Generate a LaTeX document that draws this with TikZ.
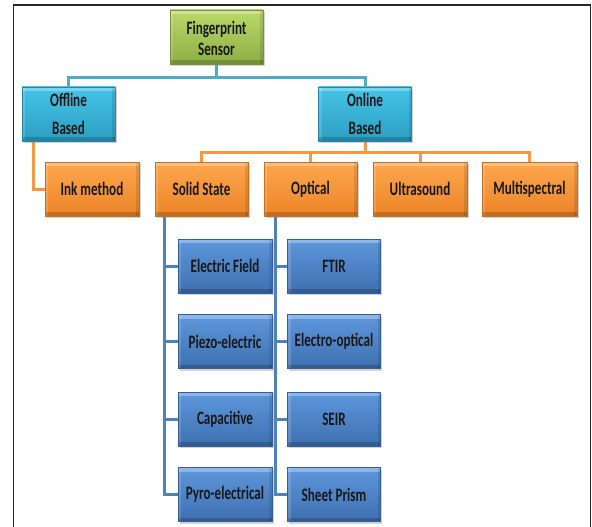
\documentclass[tikz,border=0pt]{standalone}
\usepackage{fontspec}
\newfontfamily\boxfont[FakeStretch=0.69]{Carlito}
\usetikzlibrary{shadows,calc}

\pgfdeclarelayer{lines}
\pgfsetlayers{lines,main}

\definecolor{grnT}{HTML}{BBD96A}
\definecolor{grnB}{HTML}{8DAE45}
\definecolor{cyaT}{HTML}{45C3E6}
\definecolor{cyaB}{HTML}{2C9FC2}
\definecolor{orgT}{HTML}{FDA74F}
\definecolor{orgB}{HTML}{EC8426}
\definecolor{bluT}{HTML}{5E97DC}
\definecolor{bluB}{HTML}{3E70B0}
\definecolor{cyaLine}{HTML}{4BACC6}
\definecolor{orgLine}{HTML}{F79646}
\definecolor{bluLine}{HTML}{4F81BD}

\tikzset{
  box/.style={rectangle, minimum width=93pt, minimum height=54pt, inner sep=0pt,
    text=black!90, align=center,
    font=\boxfont\bfseries\fontsize{19}{20}\selectfont,
    drop shadow={opacity=0.35, shadow xshift=1.5pt, shadow yshift=-2pt},
    path picture={
      \fill[white,opacity=0.30] (path picture bounding box.north west) rectangle
        ([yshift=-4pt]path picture bounding box.north east);
      \fill[white,opacity=0.15] (path picture bounding box.north west) rectangle
        ([xshift=3pt]path picture bounding box.south west);
      \fill[black,opacity=0.18] (path picture bounding box.south west) rectangle
        ([yshift=4pt]path picture bounding box.south east);
      \fill[black,opacity=0.10] (path picture bounding box.north east) rectangle
        ([xshift=-3pt]path picture bounding box.south east);
    }},
  greenbox/.style={box, top color=grnT, bottom color=grnB, draw=grnB!85!black, line width=0.5pt},
  cyanbox/.style={box, top color=cyaT, bottom color=cyaB, draw=cyaB!85!black, line width=0.5pt},
  orangebox/.style={box, top color=orgT, bottom color=orgB, draw=orgB!85!black, line width=0.5pt},
  bluebox/.style={box, top color=bluT, bottom color=bluB, draw=bluB!85!black, line width=0.5pt},
  cline/.style={draw=cyaLine, line width=3pt},
  oline/.style={draw=orgLine, line width=3pt},
  bline/.style={draw=bluLine, line width=3pt},
  frame/.style={draw=black!85, line width=1.6pt}
}

\begin{document}
\begin{tikzpicture}[x=1pt, y=-1pt]
\useasboundingbox (0,0) rectangle (592,527);

% outer frame (open at the bottom)
\coordinate (fbl) at (13.5,527);
\coordinate (ftl) at (13.5,5);
\coordinate (ftr) at (590.5,5);
\coordinate (fbr) at (590.5,527);
\draw[frame] (fbl) -- (ftl) -- (ftr) -- (fbr);

% boxes
\node[greenbox, text depth=0pt] (fs) at (216.5,37) {\raisebox{-2pt}{Fingerprint}\\[1pt]\raisebox{-2pt}{Sensor}};
\node[cyanbox] (off) at (68.5,114) {Offline\\[8pt]Based};
\node[cyanbox] (on) at (365,114) {Online\\[8pt]Based};

\node[orangebox, minimum width=94pt] (ink) at (92,189) {\raisebox{-1.5pt}{Ink method}};
\node[orangebox] (sol) at (201.5,189) {\raisebox{-1.5pt}{Solid State}};
\node[orangebox] (opt) at (310.5,189) {\raisebox{-1.5pt}{Optical}};
\node[orangebox, minimum width=94pt] (ult) at (420,189) {\raisebox{-1.5pt}{Ultrasound}};
\node[orangebox, minimum width=95pt] (mul) at (529.5,189) {\raisebox{-1.5pt}{Multispectral}};

\node[bluebox, minimum width=94pt] (ef) at (225,266) {Electric Field};
\node[bluebox, minimum width=94pt] (pz) at (225,341.5) {Piezo-electric};
\node[bluebox, minimum width=94pt] (cp) at (225,419) {Capacitive};
\node[bluebox, minimum width=94pt] (py) at (225,494.5) {Pyro-electrical};

\node[bluebox] (ft) at (334,266) {FTIR};
\node[bluebox] (eo) at (334,341.5) {Electro-optical};
\node[bluebox] (se) at (334,419) {SEIR};
\node[bluebox] (sp) at (334,494.5) {Sheet Prism};

% tree lines, kept behind the boxes
\begin{pgfonlayer}{lines}
  % sensor -> offline / online
  \draw[cline] (fs.south) -- ++(0,14);
  \draw[cline] (off.north) -- ++(0,-9) -| (on.north);
  % offline -> ink method
  \draw[oline] ([xshift=-35.5pt]off.south) |- (ink.west);
  % online -> four orange boxes
  \draw[oline] (on.south) -- ++(0,12);
  \draw[oline] (sol.north) -- ++(0,-9) -| (mul.north);
  \draw[oline] (opt.north) -- ++(0,-9);
  \draw[oline] (ult.north) -- ++(0,-9);
  % solid state branch
  \draw[bline] ([xshift=-37.5pt]sol.south) |- (ef.west);
  \draw[bline] ([xshift=-37.5pt]sol.south) |- (pz.west);
  \draw[bline] ([xshift=-37.5pt]sol.south) |- (cp.west);
  \draw[bline] ([xshift=-37.5pt]sol.south) |- (py.west);
  % optical branch
  \draw[bline] ([xshift=-35.5pt]opt.south) |- (ft.west);
  \draw[bline] ([xshift=-35.5pt]opt.south) |- (eo.west);
  \draw[bline] ([xshift=-35.5pt]opt.south) |- (se.west);
  \draw[bline] ([xshift=-35.5pt]opt.south) |- (sp.west);
\end{pgfonlayer}
\end{tikzpicture}
\end{document}
